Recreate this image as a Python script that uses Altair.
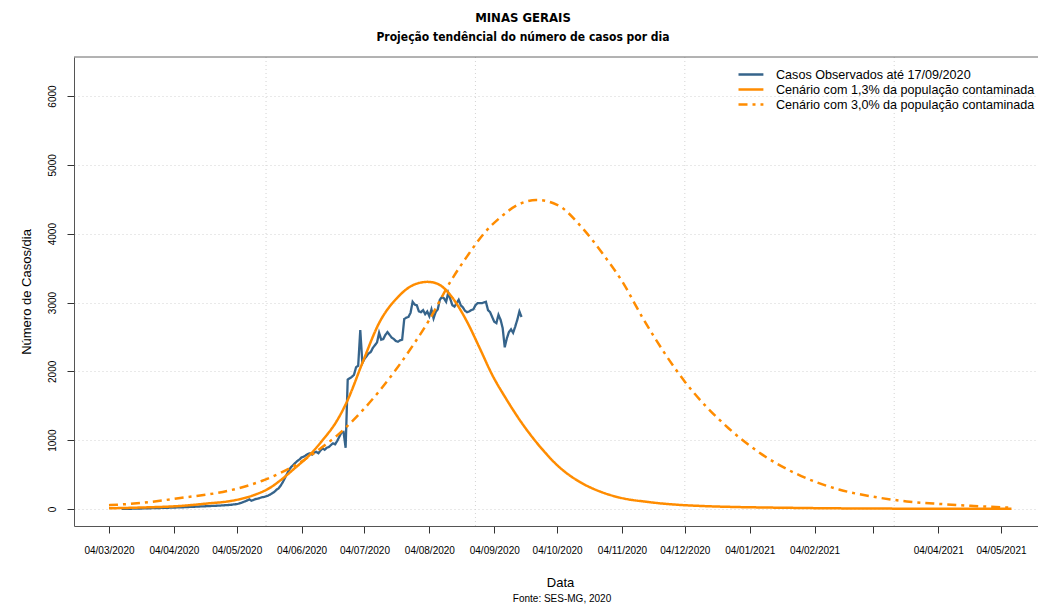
import altair as alt
import pandas as pd

TITLE = "MINAS GERAIS"
SUBTITLE = "Projeção tendêncial do número de casos por dia"
SOURCE = "Fonte: SES-MG, 2020"
X_TITLE = "Data"
Y_TITLE = "Número de Casos/dia"

SERIES = [
    "Casos Observados até 17/09/2020",
    "Cenário com 1,3% da população contaminada",
    "Cenário com 3,0% da população contaminada",
]
COLORS = ["#36648B", "#FF8C00", "#FF8C00"]
DASHES = [[1, 0], [1, 0], [9, 5, 3, 5]]

# observed daily cases, starting 2020-03-10 (one value per day)
OBS_START = "2020-03-10"
OBS_VALUES = [
    1, 2, 2, 3, 3, 4, 5, 6, 6, 7, 8, 9, 10, 10, 11,
    12, 13, 14, 14, 15, 16, 17, 18, 19, 20, 21, 22, 23, 24, 25, 26, 28, 29, 30, 32,
    33, 34, 36, 37, 38, 40, 41, 42, 44, 45, 47, 48, 50, 52, 54, 56, 58, 60, 64, 68,
    70, 78, 88, 100, 110, 125, 140, 120, 130, 145, 150, 160, 170, 175, 185, 195, 210, 230, 250, 280,
    300, 340, 390, 450, 510, 570, 610, 640, 670, 700, 720, 750, 760, 780, 800, 810, 790, 820, 830, 810,
    850, 880, 860, 890, 900, 930, 955, 940, 990, 1050, 1110, 1120, 890, 1880, 1900, 1920, 1950, 2060, 2080, 2600,
    2120, 2180, 2220, 2260, 2280, 2340, 2380, 2420, 2560, 2460, 2470, 2530, 2570, 2530, 2490, 2470, 2440, 2430, 2450, 2460,
    2760, 2780, 2790, 2850, 3010, 2970, 2960, 2870, 2860, 2890, 2830, 2870, 2800, 2900, 2770, 2860, 2900, 3040, 3080, 3060,
    3010, 3140, 3050, 2960, 2940, 2990, 3040, 2960, 2930, 2880, 2860, 2870, 2890, 2900, 2960, 2990, 2990, 2990, 3000, 3010,
    2890, 2860, 2790, 2720, 2700, 2820, 2750, 2630, 2350, 2480, 2570, 2610, 2560, 2650, 2750, 2870, 2790,
]

SOLID_DATES = [
    "2020-03-04", "2020-03-20", "2020-04-07", "2020-04-20", "2020-05-01", "2020-05-12",
    "2020-05-20", "2020-05-25", "2020-06-01", "2020-06-07", "2020-06-14", "2020-06-21",
    "2020-06-26", "2020-07-03", "2020-07-11", "2020-07-20", "2020-07-27", "2020-07-31",
    "2020-08-03", "2020-08-06", "2020-08-09", "2020-08-15", "2020-08-22", "2020-08-28",
    "2020-09-03", "2020-09-10", "2020-09-16", "2020-09-26", "2020-10-05", "2020-10-15",
    "2020-10-24", "2020-11-03", "2020-11-17", "2020-12-11", "2021-01-28", "2021-03-17",
    "2021-05-09",
]
SOLID_VALUES = [
    10, 22, 44, 80, 116, 200,
    310, 420, 600, 760, 1000, 1290,
    1584, 2121, 2702, 3080, 3250, 3290,
    3300, 3290, 3255, 3070, 2720, 2340,
    1950, 1584, 1300, 900, 610, 390,
    260, 165, 100, 45, 15, 5,
    2,
]

DASH_DATES = [
    "2020-03-04", "2020-03-20", "2020-04-07", "2020-05-01", "2020-05-17", "2020-05-25",
    "2020-06-04", "2020-06-13", "2020-06-21", "2020-06-26", "2020-07-11", "2020-07-27",
    "2020-08-04", "2020-08-14", "2020-08-22", "2020-08-30", "2020-09-07", "2020-09-15",
    "2020-09-24", "2020-10-04", "2020-10-16", "2020-10-26", "2020-11-04", "2020-11-14",
    "2020-12-04", "2020-12-25", "2021-01-10", "2021-01-26", "2021-02-16", "2021-03-04",
    "2021-03-20", "2021-04-05", "2021-04-21", "2021-05-09",
]
DASH_VALUES = [
    56, 90, 160, 272, 420, 525,
    690, 880, 1070, 1210, 1710, 2370,
    2750, 3300, 3670, 4000, 4240, 4415,
    4490, 4420, 4085, 3700, 3310, 2770,
    1850, 1170, 790, 515, 280, 178,
    110, 73, 44, 18,
]

TICK_DATES = [
    "2020-03-04", "2020-04-04", "2020-05-04", "2020-06-04", "2020-07-04",
    "2020-08-04", "2020-09-04", "2020-10-04", "2020-11-04", "2020-12-04",
    "2021-01-04", "2021-02-04", "2021-03-04", "2021-04-04", "2021-05-04",
]
TICK_LABELS = [
    "04/03/2020", "04/04/2020", "04/05/2020", "04/06/2020", "04/07/2020",
    "04/08/2020", "04/09/2020", "04/10/2020", "04/11/2020", "04/12/2020",
    "04/01/2021", "04/02/2021", "", "04/04/2021", "04/05/2021",
]
GRID_DATES = ["2020-05-18", "2020-08-26", "2020-12-04", "2021-03-14"]
Y_TICKS = [0, 1000, 2000, 3000, 4000, 5000, 6000]
Y_DOMAIN = [-247, 6567]

W, H = 964, 469
FONT = "Liberation Sans, Arial, sans-serif"
NARROW = "DejaVu Sans Condensed, Liberation Sans, sans-serif"


def dt(s, **kw):
    y, m, d = map(int, s.split("-"))
    return alt.DateTime(year=y, month=m, date=d, utc=True, **kw)


obs_df = pd.DataFrame({
    "date": pd.date_range(OBS_START, periods=len(OBS_VALUES), freq="D").strftime("%Y-%m-%d"),
    "value": OBS_VALUES,
    "serie": SERIES[0],
})
proj_df = pd.concat([
    pd.DataFrame({"date": SOLID_DATES, "value": SOLID_VALUES, "serie": SERIES[1]}),
    pd.DataFrame({"date": DASH_DATES, "value": DASH_VALUES, "serie": SERIES[2]}),
], ignore_index=True)
grid_df = pd.DataFrame({"date": GRID_DATES})

x_scale = alt.Scale(
    type="utc",
    domain=[alt.DateTime(year=2020, month=2, date=16, hours=6, minutes=50, utc=True),
            alt.DateTime(year=2021, month=5, date=21, hours=16, utc=True)],
)
y_scale = alt.Scale(domain=Y_DOMAIN, nice=False, zero=False)

label_expr = " : ".join(
    f"utcFormat(datum.value, '%Y-%m-%d') == '{d}' ? '{l}'" for d, l in zip(TICK_DATES, TICK_LABELS)
) + " : ''"

x_axis = alt.Axis(
    values=[dt(s) for s in TICK_DATES], labelExpr=label_expr, tickSize=7,
    labelFontSize=10, labelPadding=12, labelFlush=False, labelOverlap=False,
    title=X_TITLE, titleFontSize=13, titleFontWeight="normal", titleX=W / 2 + 4,
    titleY=60, titleBaseline="alphabetic", titleAnchor="middle", grid=False,
)
y_axis = alt.Axis(
    values=Y_TICKS, labelAngle=270, labelAlign="center", labelBaseline="bottom",
    labelPadding=10, tickSize=7, labelFontSize=10, format="d",
    title=Y_TITLE, titleFontSize=13, titleFontWeight="normal", titleAngle=270,
    titleX=-44, titleY=H / 2, titleBaseline="alphabetic", titleAlign="center",
    grid=True, gridDash=[1, 3], gridColor="#d3d3d3", gridWidth=1,
)

legend = alt.Legend(
    title=None, orient="none", legendX=663, legendY=10,
    symbolType="M-1,0H3.15", symbolSize=144, symbolStrokeWidth=2.5,
    labelFontSize=12.6, labelFont=FONT, labelColor="#000", labelLimit=500,
    rowPadding=0, padding=0, labelOffset=24,
)
color = alt.Color("serie:N", scale=alt.Scale(domain=SERIES, range=COLORS), legend=legend)
dash = alt.StrokeDash("serie:N", scale=alt.Scale(domain=SERIES, range=DASHES), legend=legend)

grid_v = alt.Chart(grid_df).mark_rule(color="#d3d3d3", strokeDash=[1, 3], strokeWidth=1).encode(
    x=alt.X("date:T", scale=x_scale, axis=x_axis)
)
top_border = alt.Chart(pd.DataFrame({"k": [0]})).mark_rule(color="#666", strokeWidth=1).encode(
    x=alt.value(0), x2=alt.value(W), y=alt.value(0)
)
obs_line = alt.Chart(obs_df).mark_line(strokeWidth=2.3, interpolate="linear").encode(
    x=alt.X("date:T", scale=x_scale, axis=x_axis),
    y=alt.Y("value:Q", scale=y_scale, axis=y_axis),
    color=color, strokeDash=dash,
)
proj_line = alt.Chart(proj_df).mark_line(strokeWidth=2.5, interpolate="monotone").encode(
    x=alt.X("date:T", scale=x_scale, axis=x_axis),
    y=alt.Y("value:Q", scale=y_scale, axis=y_axis),
    color=color, strokeDash=dash,
)


def text_layer(txt, x, y, size, weight="normal", font=FONT):
    return alt.Chart(pd.DataFrame({"t": [txt]})).mark_text(
        font=font, fontSize=size, fontWeight=weight, align="center",
        baseline="alphabetic", color="#000",
    ).encode(text="t:N", x=alt.value(x), y=alt.value(y))


title1 = text_layer(TITLE, 449, -35, 13, "bold", NARROW)
title2 = text_layer(SUBTITLE, 449, -16.5, 12, "bold", NARROW)
source = text_layer(SOURCE, 488, 544.6, 10)

chart = alt.layer(grid_v, top_border, obs_line, proj_line, title1, title2, source).properties(
    width=W, height=H,
    autosize=alt.AutoSizeParams(type="none"),
    padding={"left": 66, "top": 49, "right": 0, "bottom": 79},
).configure_view(stroke=None).configure_axis(
    labelFont=FONT, titleFont=FONT, labelColor="#000", titleColor="#000",
    domainColor="#555", tickColor="#333", domainWidth=1, tickWidth=1,
)

chart.save("out.html", embed_options={"renderer": "svg", "actions": False})
